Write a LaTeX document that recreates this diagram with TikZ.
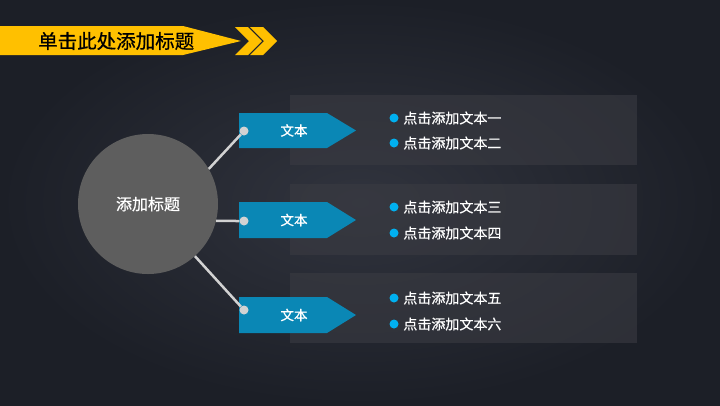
\documentclass[tikz,border=0pt]{standalone}
\usepackage{fontspec}
\setmainfont{Noto Sans CJK SC}[FakeBold=0.6]
\usetikzlibrary{positioning}

\definecolor{bgedge}{HTML}{1C1F27}
\definecolor{bgcenter}{HTML}{31343E}
\definecolor{panelgray}{HTML}{3A3B42}
\definecolor{titleyellow}{HTML}{FFC000}
\definecolor{tagblue}{HTML}{0A87B5}
\definecolor{bulletblue}{HTML}{00B0F0}
\definecolor{knobgray}{HTML}{D2D2D2}
\definecolor{hubgray}{HTML}{5E5E5E}

\tikzset{
  panel/.style={fill=panelgray, fill opacity=0.6},
  tagtext/.style={text=white, font=\fontsize{13.5}{14}\selectfont},
  knob/.style={circle, fill=knobgray, inner sep=0pt, minimum size=9pt},
  link/.style={knobgray, line width=2.5pt},
  bullet/.style={circle, fill=bulletblue, inner sep=0pt, minimum size=9pt},
  item/.style={text=white, font=\fontsize{14}{15}\selectfont, inner sep=0pt, right=4.5pt of #1},
}

\begin{document}
\begin{tikzpicture}[x=1pt,y=-1pt]

  % Background
  \useasboundingbox (0,0) rectangle (720,405);
  \shade[inner color=bgcenter, outer color=bgedge] (0,0) rectangle (720,405);

  % Title bar
  \fill[titleyellow] (0,26) -- (183,26) -- (241,41) -- (183,55) -- (0,55) -- cycle;
  \fill[titleyellow] (235,27) -- (248,27) -- (262,41) -- (248,55) -- (235,55) -- (249,41) -- cycle;
  \fill[titleyellow] (250,27) -- (263,27) -- (277,41) -- (263,55) -- (250,55) -- (264,41) -- cycle;
  \node[anchor=west, inner sep=0pt, font=\fontsize{19.5}{20}\selectfont] (title) at (38,41) {单击此处添加标题};

  % Panels
  \fill[panel] (290,95) rectangle (637,165);
  \fill[panel] (290,184) rectangle (637,255);
  \fill[panel] (290,273) rectangle (637,343);

  % Tags
  \fill[tagblue] (239,113) -- ++(88,0) -- ++(29,17.5) -- ++(-29,17.5) -- ++(-88,0) -- cycle;
  \fill[tagblue] (239,202) -- ++(88,0) -- ++(29,18) -- ++(-29,18) -- ++(-88,0) -- cycle;
  \fill[tagblue] (239,297) -- ++(88,0) -- ++(29,18) -- ++(-29,18) -- ++(-88,0) -- cycle;
  \node[tagtext] (tagA) at (294,130.5) {文本};
  \node[tagtext] (tagB) at (294,220) {文本};
  \node[tagtext] (tagC) at (294,315) {文本};

  % Hub and links
  \node[circle, fill=hubgray, minimum size=140pt, text=white, font=\fontsize{16}{17}\selectfont] (hub) at (148,204) {添加标题};
  \node[knob] (knobA) at (244,131) {};
  \node[knob] (knobB) at (244,221) {};
  \node[knob] (knobC) at (244,310) {};
  \draw[link] (hub.30) -- (knobA);
  \draw[link] (hub.-14) -- (knobB);
  \draw[link] (hub.-48) -- (knobC);

  % Items
  \node[bullet] (b1) at (394,118) {};
  \node[bullet] (b2) at (394,143) {};
  \node[bullet] (b3) at (394,207) {};
  \node[bullet] (b4) at (394,233) {};
  \node[bullet] (b5) at (394,298) {};
  \node[bullet] (b6) at (394,324) {};
  \node[item=b1] (t1) {点击添加文本一};
  \node[item=b2] (t2) {点击添加文本二};
  \node[item=b3] (t3) {点击添加文本三};
  \node[item=b4] (t4) {点击添加文本四};
  \node[item=b5] (t5) {点击添加文本五};
  \node[item=b6] (t6) {点击添加文本六};

\end{tikzpicture}
\end{document}
